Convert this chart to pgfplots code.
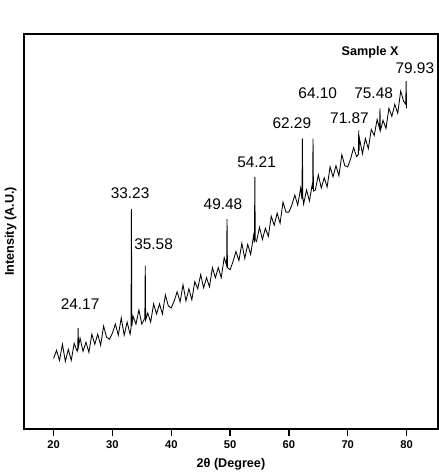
\documentclass[border=0pt]{standalone}
\usepackage{fontspec}
\setmainfont{Liberation Sans}
\usepackage{pgfplots}
\pgfplotsset{compat=1.18}

\pgfplotstableread{
x y
20.0 70
20.5 78
21.0 68
21.5 84
22.0 67
22.5 79
23.0 68
23.5 85
24.0 77
24.10 80
24.17 100
24.24 82
24.5 90
25.0 77
25.5 86
26.0 76
26.5 94
27.0 84
27.5 94
28.0 83
28.5 102
29.0 91
29.5 89
30.0 95
30.5 104
31.0 93
31.5 110
32.0 93
32.5 106
33.0 94
33.16 100
33.23 218
33.30 102
33.5 112
34.0 104
34.5 118
35.0 104
35.51 110
35.58 162
35.65 108
36.0 115
36.5 106
37.0 124
37.5 114
38.0 124
38.5 114
39.0 133
39.5 122
40.0 120
40.5 127
41.0 136
41.5 126
42.0 143
42.5 127
43.0 139
43.5 128
44.0 146
44.5 139
45.0 153
45.5 140
46.0 150
46.5 141
47.0 160
47.5 150
48.0 160
48.5 150
49.0 170
49.41 162
49.48 208
49.55 160
50.0 158
50.5 166
51.0 176
51.5 167
52.0 184
52.5 169
53.0 183
53.5 173
54.0 192
54.14 185
54.21 250
54.28 188
54.5 186
55.0 200
55.5 188
56.0 199
56.5 191
57.0 211
57.5 202
58.0 214
58.5 204
59.0 225
59.5 215
60.0 215
60.5 222
61.0 232
61.5 222
62.0 239
62.22 228
62.29 288
62.36 230
62.5 223
63.0 237
63.5 226
64.0 244
64.03 238
64.10 288
64.17 236
64.5 237
65.0 252
65.5 239
66.0 249
66.5 240
67.0 260
67.5 250
68.0 261
68.5 251
69.0 272
69.5 261
70.0 260
70.5 268
71.0 279
71.5 270
71.80 272
71.87 296
71.94 276
72.0 288
72.5 273
73.0 288
73.5 278
74.0 297
74.5 291
75.0 307
75.41 298
75.48 318
75.55 296
76.0 306
76.5 298
77.0 318
77.5 310
78.0 322
78.5 313
79.0 335
79.5 325
79.86 322
79.93 345
80.0 318
}\xrd

\begin{document}
\begin{tikzpicture}[peak/.style={font=\fontsize{11}{13}\selectfont, inner sep=0pt}]
\begin{axis}[
    scale only axis,
    width=295pt,
    height=282pt,
    xmin=15, xmax=85.3,
    ymin=0, ymax=392,
    xtick={20,30,40,50,60,70,80},
    ytick=\empty,
    xtick pos=lower,
    tick align=outside,
    major tick length=5pt,
    axis line style={line width=1.3pt},
    every tick/.style={black, line width=1pt},
    tick label style={font=\bfseries\footnotesize},
    /pgf/number format/assume math mode=true,
    xlabel={\bfseries 2θ (Degree)},
    ylabel={\bfseries Intensity (A.U.)},
    ylabel style={yshift=-3pt},
    label style={font=\small},
    clip=false,
]
\addplot[black, line width=0.6pt] table[x=x, y=y] {\xrd};

\node[peak] at (axis cs:24.5,124) {24.17};
\node[peak] at (axis cs:33.0,234) {33.23};
\node[peak] at (axis cs:37.0,183) {35.58};
\node[peak] at (axis cs:48.8,223) {49.48};
\node[peak] at (axis cs:54.5,265) {54.21};
\node[peak] at (axis cs:60.5,303) {62.29};
\node[peak] at (axis cs:64.9,333) {64.10};
\node[peak] at (axis cs:70.3,308) {71.87};
\node[peak] at (axis cs:74.4,333) {75.48};
\node[peak] at (axis cs:81.4,358) {79.93};
\node[font=\bfseries\small, inner sep=0pt] at (axis cs:73.8,374) {Sample X};
\end{axis}
\path ([yshift=24pt]current axis.north west);
\end{tikzpicture}
\end{document}
